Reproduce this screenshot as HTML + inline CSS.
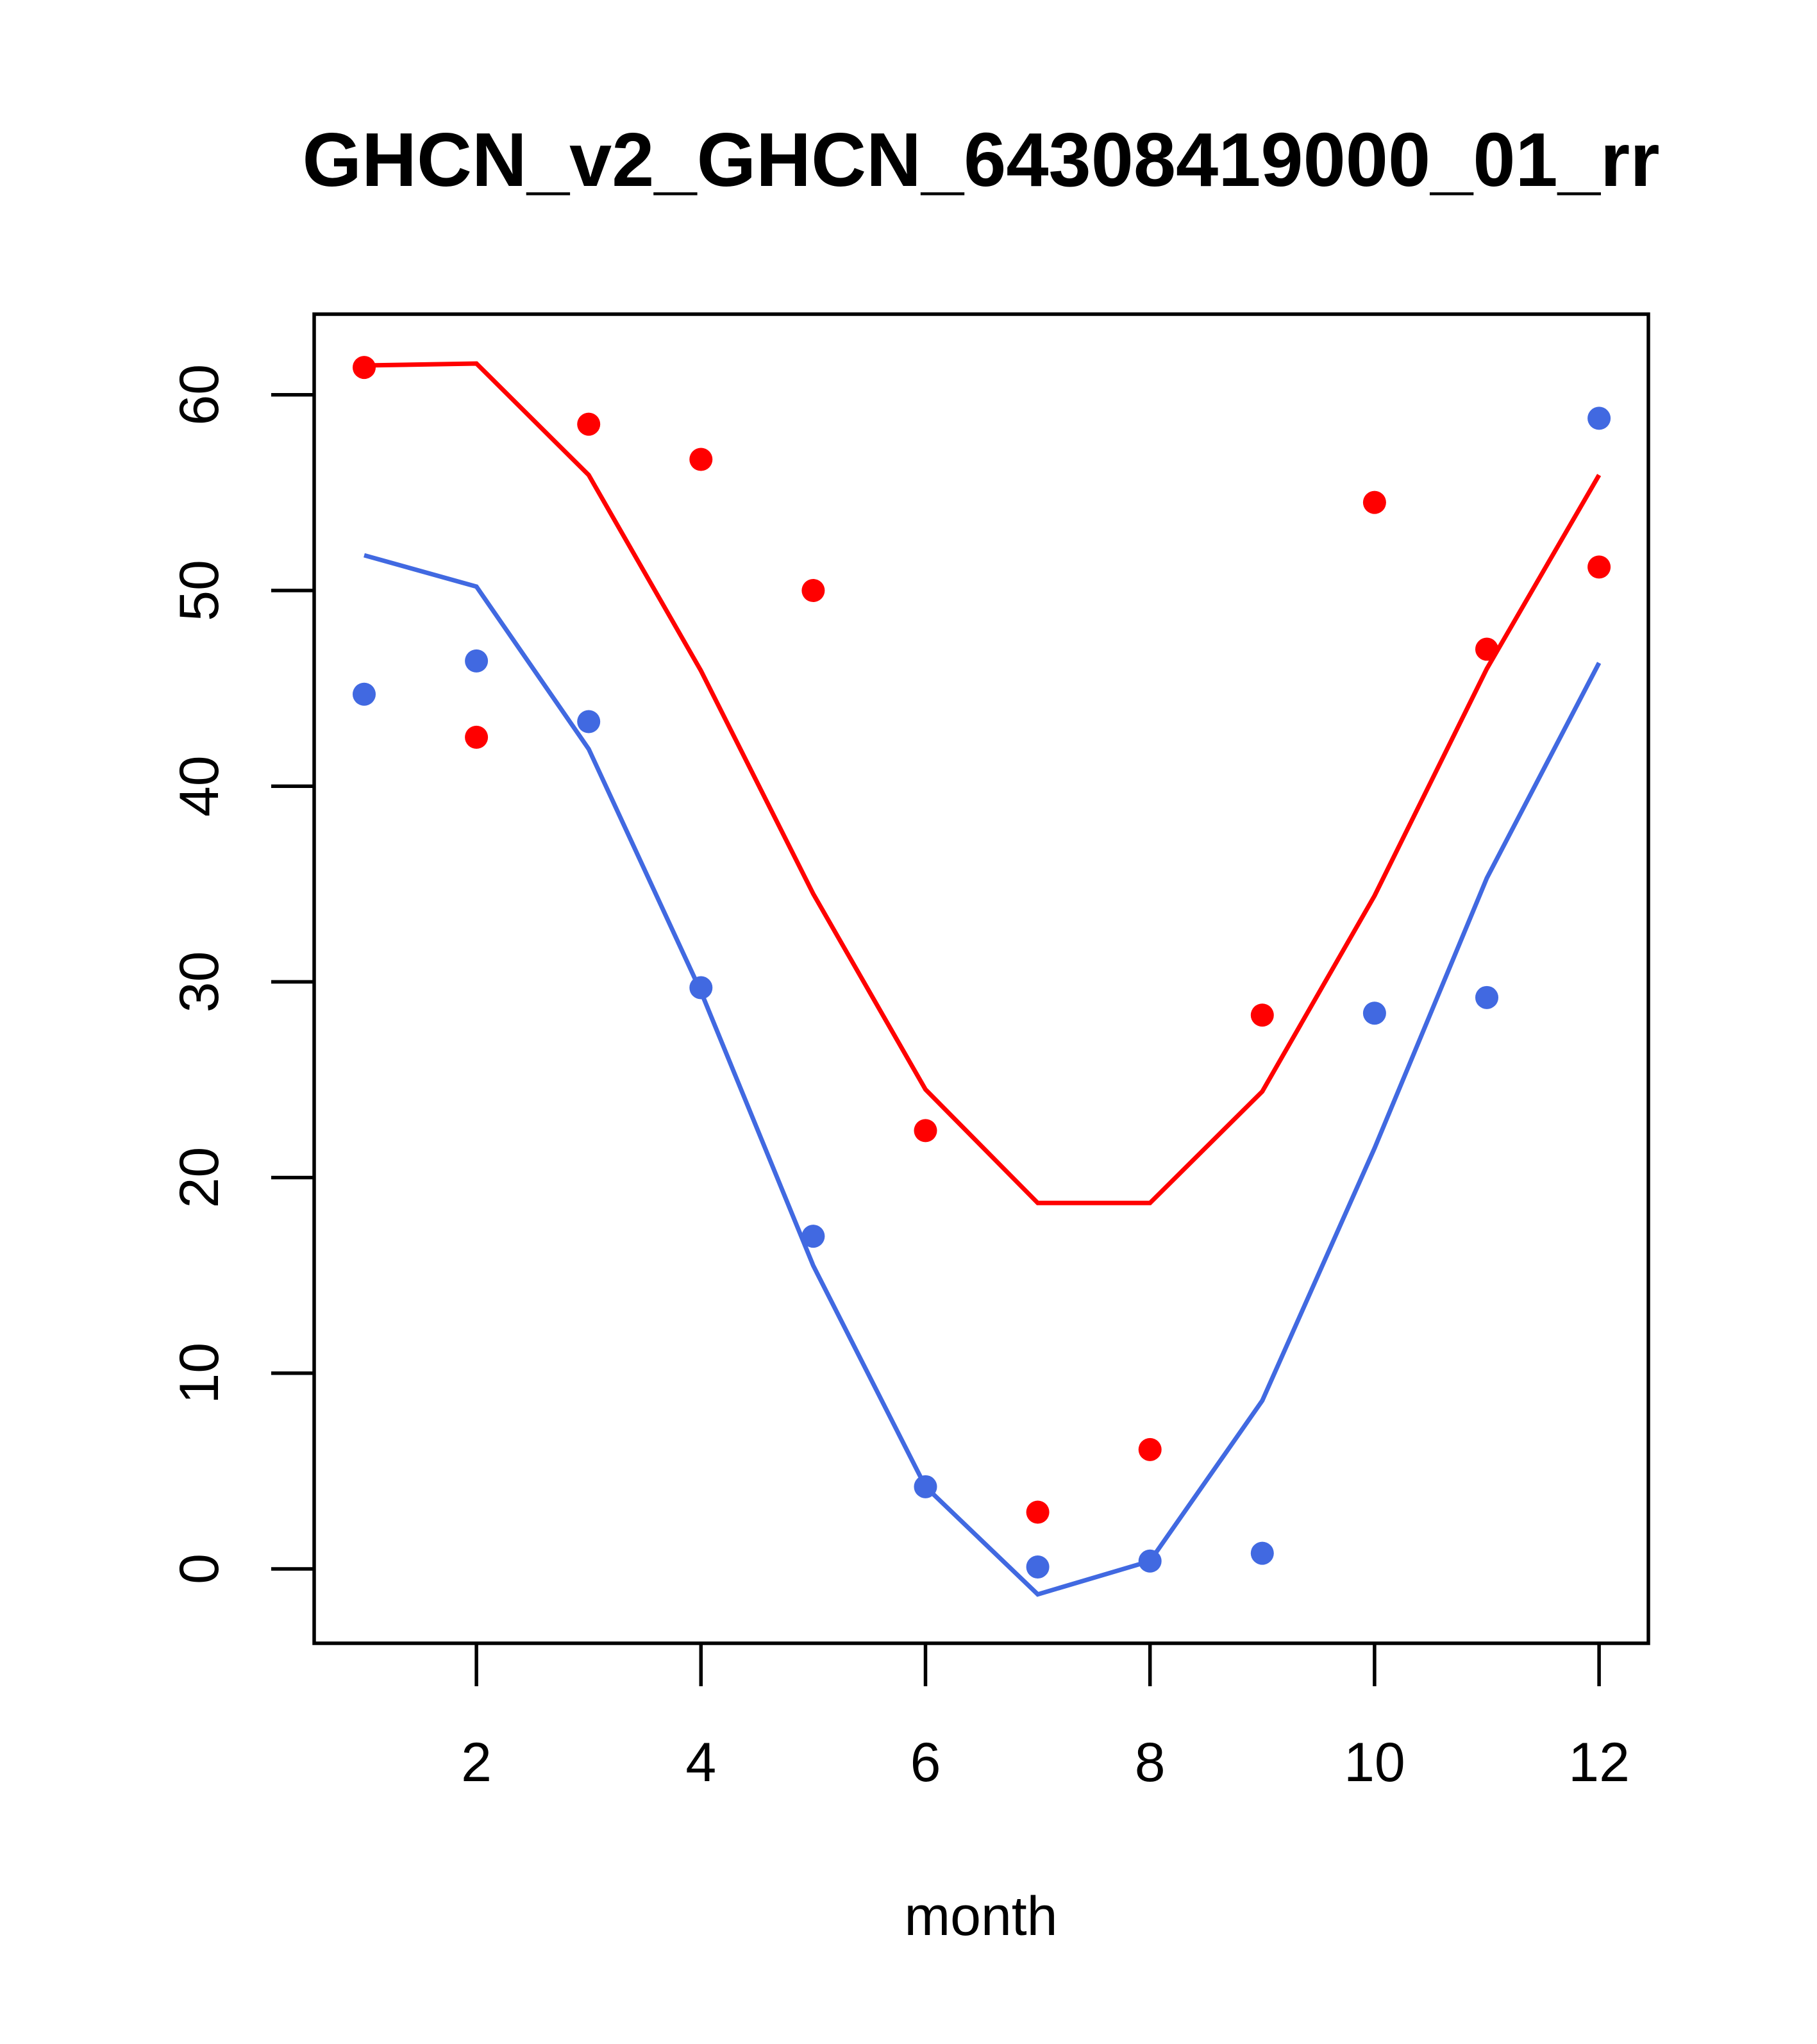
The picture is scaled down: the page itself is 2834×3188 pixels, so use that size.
<!DOCTYPE html>
<html><head><meta charset="utf-8"><style>body{margin:0;background:#fff}svg{display:block}text{font-family:"Liberation Sans",sans-serif}</style></head>
<body>
<svg id="chart" width="2834" height="3188" viewBox="0 0 2834 3188" xmlns="http://www.w3.org/2000/svg">
<rect width="2834" height="3188" fill="#fff"/>
<text x="1530" y="290" text-anchor="middle" font-size="119" font-weight="bold">GHCN_v2_GHCN_64308419000_01_rr</text>
<rect x="490" y="490" width="2081" height="2073" fill="none" stroke="#000" stroke-width="5.5"/>
<text x="1530" y="3018" text-anchor="middle" font-size="86">month</text>
<g id="g"></g>
</svg>
<script>
const months=[1,2,3,4,5,6,7,8,9,10,11,12];
const redPoints=[61.4,42.5,58.5,56.7,50.0,22.4,2.9,6.1,28.3,54.5,47.0,51.2];
const redLine=[61.5,61.6,55.9,45.9,34.5,24.5,18.7,18.7,24.4,34.4,46.0,55.9];
const bluePoints=[44.7,46.4,43.3,29.7,17.0,4.2,0.1,0.4,0.8,28.4,29.2,58.8];
const blueLine=[51.8,50.2,41.9,29.5,15.5,4.2,-1.3,0.4,8.6,21.5,35.3,46.3];
const xTicks=[2,4,6,8,10,12];
const yTicks=[0,10,20,30,40,50,60];
const X=m=>568+(m-1)*175.1;
const Y=v=>2447-v*30.52;
const NS='http://www.w3.org/2000/svg';
const g=document.getElementById('g');
function mk(t,a){const e=document.createElementNS(NS,t);for(const k in a)e.setAttribute(k,a[k]);g.appendChild(e);return e;}
xTicks.forEach(t=>{
 const l=mk('line',{x1:X(t),x2:X(t),y1:2563,y2:2630,stroke:'#000','stroke-width':5.5});
 
 
 const tx=mk('text',{x:X(t),y:2778,'text-anchor':'middle','font-size':86});
 tx.textContent=t;
 
 
});
yTicks.forEach(t=>{
 const l=mk('line',{x1:423,x2:490,y1:Y(t),y2:Y(t),stroke:'#000','stroke-width':5.5});
 
 
 const tx=mk('text',{x:0,y:0,'text-anchor':'middle','font-size':86,transform:`translate(340,${Y(t)}) rotate(-90)`});
 tx.textContent=t;
 
 
});
function line(vals,col,name){
 const p=mk('polyline',{points:vals.map((v,i)=>X(months[i])+','+Y(v)).join(' '),fill:'none',stroke:col,'stroke-width':7});
 
 
}
function pts(vals,col,name){
 vals.forEach((v,i)=>{
  const c=mk('circle',{cx:X(months[i]),cy:Y(v),r:18,fill:col});
  
  
 });
}
line(redLine,'#ff0000','red-line');
line(blueLine,'#4169e1','blue-line');
pts(redPoints,'#ff0000','red-point');
pts(bluePoints,'#4169e1','blue-point');
</script>
</body></html>
